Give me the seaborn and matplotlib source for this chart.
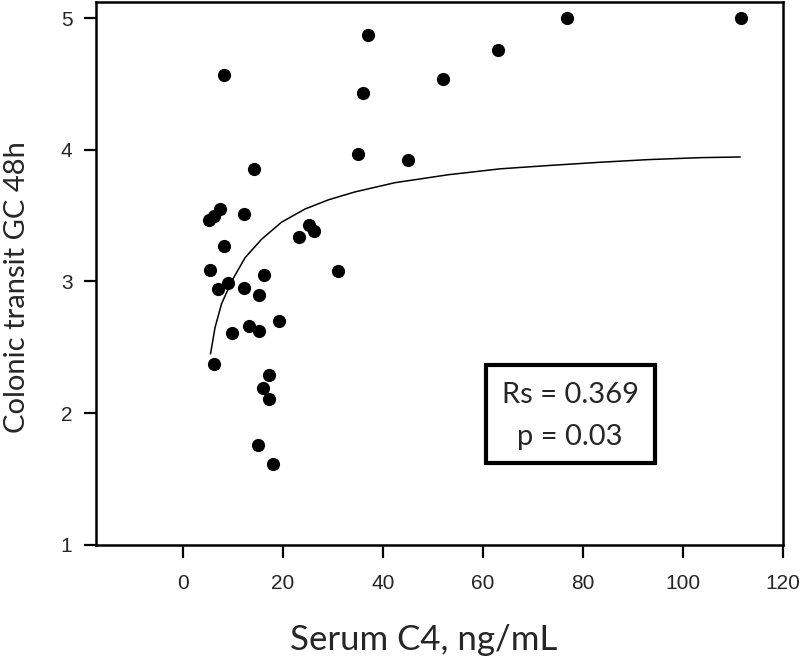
import matplotlib
matplotlib.use("Agg")
import matplotlib.pyplot as plt
from matplotlib.patches import Rectangle
import seaborn as sns
import pandas as pd

# serum C4 (ng/mL) vs colonic transit GC 48h
serum_c4 = [111.5, 76.7, 62.9, 51.9, 36.9, 35.9, 34.9, 44.9, 8.2, 14.1,
            12.1, 7.4, 6.1, 5.2, 8.1, 5.4, 23.1, 25.1, 26.1, 30.9,
            8.9, 6.9, 12.1, 16.1, 15.1, 19.1, 9.7, 13.1, 15.1, 6.2,
            17.1, 16.0, 17.2, 15.0, 18.0]
transit_gc = [5.00, 5.00, 4.76, 4.54, 4.87, 4.43, 3.97, 3.92, 4.57, 3.85,
              3.51, 3.55, 3.50, 3.47, 3.27, 3.09, 3.34, 3.43, 3.38, 3.08,
              2.99, 2.94, 2.95, 3.05, 2.90, 2.70, 2.61, 2.66, 2.62, 2.37,
              2.29, 2.19, 2.11, 1.76, 1.61]

# fitted curve
fit_x = [5.5, 6.4, 7.7, 9.7, 12.4, 15.7, 19.7, 24.4, 29.1, 34.4, 42.4,
         53.0, 63.4, 73.0, 83.4, 93.0, 103.4, 111.4]
fit_y = [2.45, 2.65, 2.83, 3.00, 3.18, 3.32, 3.45, 3.55, 3.62, 3.68, 3.75,
         3.81, 3.855, 3.88, 3.905, 3.925, 3.94, 3.945]

x_ticks = [0, 20, 40, 60, 80, 100, 120]
y_ticks = [1, 2, 3, 4, 5]

df = pd.DataFrame({"c4": serum_c4, "gc": transit_gc})
fit = pd.DataFrame({"c4": fit_x, "gc": fit_y})

sns.set_theme(style="white")
label_font = ["Lato", "DejaVu Sans"]
tick_font = ["Liberation Sans", "DejaVu Sans"]

fig = plt.figure(figsize=(8, 6.66), dpi=100)
ax = fig.add_axes([0.12, 0.182, 0.859, 0.815])

sns.lineplot(data=fit, x="c4", y="gc", color="black", lw=1.1, ax=ax)
sns.scatterplot(data=df, x="c4", y="gc", color="black", s=90,
                edgecolor="black", linewidth=0, ax=ax, zorder=3)

ax.set_xlim(-17.4, 120)
ax.set_ylim(1, 5.122)
ax.set_xticks(x_ticks)
ax.set_yticks(y_ticks)
for s in ax.spines.values():
    s.set_visible(True)
    s.set_color("black")
    s.set_linewidth(1.8)
ax.tick_params(axis="both", direction="out", length=9, width=1.6,
               color="black", labelsize=15, bottom=True, left=True)
ax.tick_params(axis="x", pad=12)
ax.tick_params(axis="y", pad=8)
for lab in ax.get_xticklabels() + ax.get_yticklabels():
    lab.set_family(tick_font)

ax.set_xlabel("Serum C4, ng/mL", fontsize=25, family=label_font, labelpad=22)
ax.set_ylabel("Colonic transit GC 48h", fontsize=21, family=label_font,
              labelpad=22)
ax.xaxis.label.set_x(0.477)
ax.yaxis.label.set_y(0.475)

# stats box
ax.add_patch(Rectangle((0.568, 0.151), 0.246, 0.180, transform=ax.transAxes,
                       fill=False, edgecolor="black", lw=3, zorder=4))
ax.text(0.690, 0.276, "Rs = 0.369", transform=ax.transAxes, ha="center",
        va="center", fontsize=21, family=label_font)
ax.text(0.690, 0.199, "p = 0.03", transform=ax.transAxes, ha="center",
        va="center", fontsize=21, family=label_font)

fig.savefig("out.png", dpi=100)
